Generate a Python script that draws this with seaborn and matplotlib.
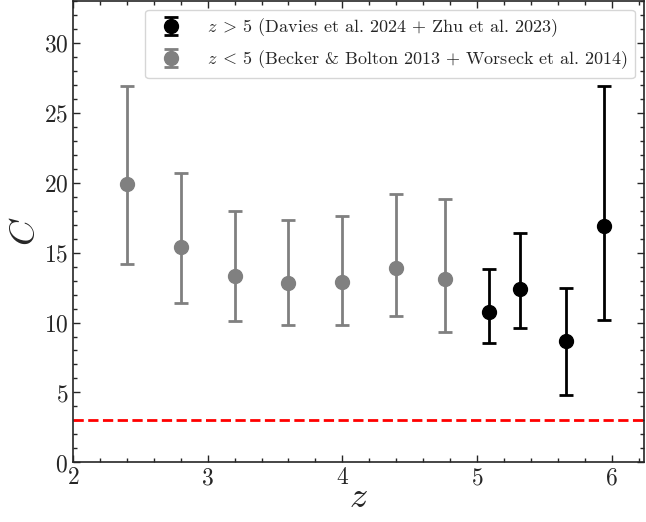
import matplotlib
matplotlib.use('Agg')
import matplotlib.pyplot as plt
import seaborn as sns

# z > 5 (Davies et al. 2024 + Zhu et al. 2023)
z_hi = [5.09, 5.32, 5.66, 5.94]
c_hi = [10.75, 12.4, 8.7, 16.9]
c_hi_up = [13.8, 16.4, 12.5, 26.9]
c_hi_lo = [8.5, 9.6, 4.8, 10.2]

# z < 5 (Becker & Bolton 2013 + Worseck et al. 2014)
z_lo = [2.4, 2.8, 3.2, 3.6, 4.0, 4.4, 4.76]
c_lo = [19.9, 15.4, 13.3, 12.8, 12.9, 13.9, 13.1]
c_lo_up = [26.9, 20.7, 18.0, 17.3, 17.6, 19.2, 18.8]
c_lo_lo = [14.2, 11.4, 10.1, 9.8, 9.8, 10.5, 9.3]

c_floor = 3

sns.set_theme(style='ticks')
plt.rcParams['font.family'] = ['cmr10']
plt.rcParams['mathtext.fontset'] = 'cm'
plt.rcParams['axes.formatter.use_mathtext'] = True
plt.rcParams['axes.unicode_minus'] = False


def yerr(c, up, lo):
    return [[a - b for a, b in zip(c, lo)], [b - a for a, b in zip(c, up)]]


fig, ax = plt.subplots(figsize=(6.46, 5.22), dpi=100)
fig.subplots_adjust(left=0.113, right=0.997, bottom=0.114, top=0.999)

ax.errorbar(z_hi, c_hi, yerr=yerr(c_hi, c_hi_up, c_hi_lo), fmt='o', color='black',
            ms=10, elinewidth=2, capsize=5, capthick=2,
            label=r'$z \: > \: 5$ (Davies et al. 2024 + Zhu et al. 2023)')
ax.errorbar(z_lo, c_lo, yerr=yerr(c_lo, c_lo_up, c_lo_lo), fmt='o', color='gray',
            ms=10, elinewidth=2, capsize=5, capthick=2,
            label=r'$z \: < \: 5$ (Becker & Bolton 2013 + Worseck et al. 2014)')
ax.axhline(c_floor, color='red', ls='--', lw=2)

ax.set_xlim(2, 6.24)
ax.set_ylim(0, 33)
ax.set_xticks([2, 3, 4, 5, 6])
ax.set_yticks([0, 5, 10, 15, 20, 25, 30])
ax.minorticks_on()
ax.xaxis.set_minor_locator(matplotlib.ticker.MultipleLocator(0.2))
ax.yaxis.set_minor_locator(matplotlib.ticker.MultipleLocator(1))
ax.tick_params(which='both', direction='in', top=True, right=True, labelsize=17, width=1)
ax.tick_params(which='major', length=5)
ax.tick_params(which='minor', length=3)
for s in ax.spines.values():
    s.set_linewidth(1.2)

ax.set_xlabel(r'$z$', fontsize=26, labelpad=-5)
ax.set_ylabel(r'$C$', fontsize=26, labelpad=1)

ax.legend(loc='upper right', fontsize=13, frameon=True, fancybox=True,
          edgecolor='#cccccc', borderpad=0.4, handletextpad=1.0)

plt.savefig('out.png', dpi=100)
plt.close()
